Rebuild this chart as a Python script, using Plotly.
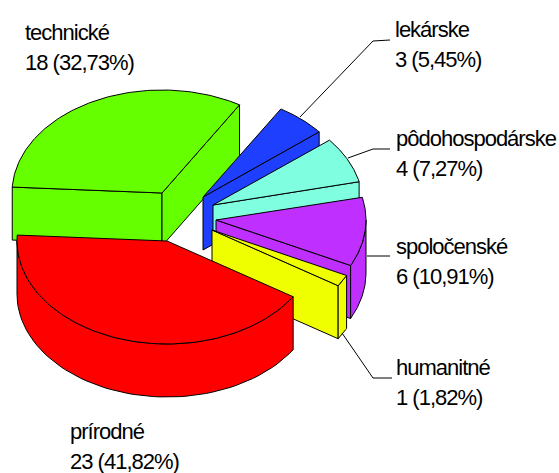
import numpy as np
import plotly.graph_objects as go

# data
categories = ["technické", "lekárske", "pôdohospodárske", "spoločenské", "humanitné", "prírodné"]
values = [18, 3, 4, 6, 1, 23]

# style
colors = ["#66FF00", "#1F3FFF", "#7FFFE0", "#BF2FFF", "#F0FF00", "#FF0000"]
explode_dx = [-28, 13, 23, 26, 22, -23]
explode_dy = [-22, -18, -10, 5, 15, 26]
label_x = [25, 395, 396, 396, 396, 70]
label_y = [34, 31, 140, 248, 369, 433]
LINE_GAP = 30
leaders_x = [[300, 373, 390], [348, 373, 390], [367, 390], [342, 373, 392]]
leaders_y = [[117, 41, 40], [158, 149, 149], [256, 256], [333, 378, 378]]
CX, CY, RX, RY, DEPTH = 190, 215, 150, 103, 53
START_DEG = 273.3


def pt(th, ax, ay):
    return ax + RX * np.sin(th), ay - RY * np.cos(th)


def add_face(fig, xs, ys, color):
    fig.add_trace(go.Scatter(
        x=list(xs) + [xs[0]], y=list(ys) + [ys[0]], mode="lines", fill="toself",
        fillcolor=color, line=dict(color="#000000", width=1),
        hoverinfo="skip", showlegend=False))


fig = go.Figure()
total = sum(values)
angle = np.radians(START_DEG)
for v, col, dx, dy in zip(values, colors, explode_dx, explode_dy):
    a0, a1 = angle, angle + 2 * np.pi * v / total
    angle = a1
    ax, ay = CX + dx, CY + dy
    # start wall
    if np.sin(a0) < 0:
        x, y = pt(a0, ax, ay)
        add_face(fig, [ax, x, x, ax], [ay, y, y + DEPTH, ay + DEPTH], col)
    # end wall
    if np.sin(a1) > 0:
        x, y = pt(a1, ax, ay)
        add_face(fig, [ax, x, x, ax], [ay, y, y + DEPTH, ay + DEPTH], col)
    # outer wall (front half only)
    for k in (0, 1):
        lo = max(a0, np.pi / 2 + 2 * np.pi * k)
        hi = min(a1, 3 * np.pi / 2 + 2 * np.pi * k)
        if hi > lo:
            th = np.linspace(lo, hi, 60)
            x, y = pt(th, ax, ay)
            add_face(fig, np.r_[x, x[::-1]], np.r_[y, y[::-1] + DEPTH], col)
    # top face
    th = np.linspace(a0, a1, 120)
    x, y = pt(th, ax, ay)
    add_face(fig, np.r_[ax, x], np.r_[ay, y], col)

for lx, ly in zip(leaders_x, leaders_y):
    fig.add_trace(go.Scatter(x=lx, y=ly, mode="lines", line=dict(color="#000000", width=1),
                             hoverinfo="skip", showlegend=False))

txt_x, txt_y, txt = [], [], []
for name, v, x, y in zip(categories, values, label_x, label_y):
    pct = f"{100 * v / total:.2f}".replace(".", ",")
    for i, text in enumerate([name, f"{v} ({pct}%)"]):
        txt_x.append(x)
        txt_y.append(y + i * LINE_GAP)
        txt.append(text)
fig.add_trace(go.Scatter(x=txt_x, y=txt_y, text=txt, mode="text", textposition="middle right",
                         textfont=dict(family="Liberation Sans", size=22, color="#000000"),
                         cliponaxis=False, hoverinfo="skip", showlegend=False))

fig.update_layout(
    width=559, height=473, margin=dict(l=0, r=0, t=0, b=0),
    paper_bgcolor="#FFFFFF", plot_bgcolor="#FFFFFF", showlegend=False,
    xaxis=dict(range=[0, 559], visible=False, fixedrange=True),
    yaxis=dict(range=[473, 0], visible=False, fixedrange=True),
)
fig.write_html("out.html", config=dict(displayModeBar=False),
               post_script="document.body.style.margin='0';document.body.style.overflow='hidden';"
                           "document.querySelectorAll('.textpoint text').forEach(function(t){"
                           "t.style.letterSpacing='-1px';});")
